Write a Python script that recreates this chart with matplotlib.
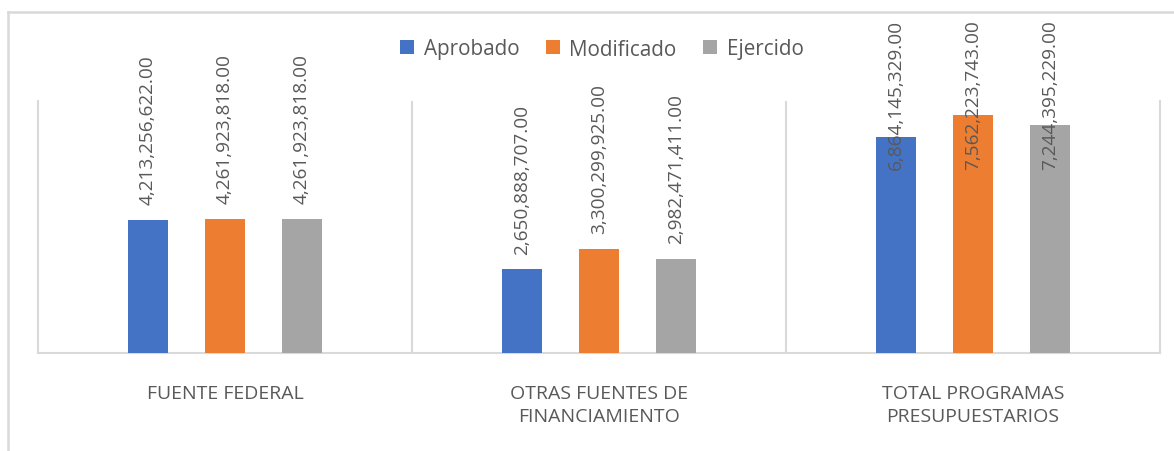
import matplotlib.pyplot as plt
import matplotlib.transforms as mtransforms
from matplotlib.lines import Line2D
import numpy as np

plt.rcParams['font.family'] = ['Open Sans', 'DejaVu Sans']

categorias = ['FUENTE FEDERAL', 'OTRAS FUENTES DE\nFINANCIAMIENTO', 'TOTAL PROGRAMAS\nPRESUPUESTARIOS']
series = ['Aprobado', 'Modificado', 'Ejercido']
aprobado = [4213256622.00, 2650888707.00, 6864145329.00]
modificado = [4261923818.00, 3300299925.00, 7562223743.00]
ejercido = [4261923818.00, 2982471411.00, 7244395229.00]
colores = ['#4472C4', '#ED7D31', '#A5A5A5']

gris_texto = '#595959'
gris_linea = '#D9D9D9'

fig = plt.figure(figsize=(11.74, 4.52), dpi=100)
# borde exterior del grafico (solo se ve arriba y a la izquierda)
yb = 1 - 12.5 / 452
xb = 8 / 1174
fig.add_artist(Line2D([xb, 1.0], [yb, yb], transform=fig.transFigure, color=gris_linea, linewidth=1.8))
fig.add_artist(Line2D([xb, xb], [0.0, yb], transform=fig.transFigure, color=gris_linea, linewidth=1.8))

ax = fig.add_axes([38 / 1174, 1 - 354 / 452, (1160 - 38) / 1174, 252 / 452])

x = np.arange(len(categorias))
ancho = 0.107
desp = 0.206
barras = []
for i, (nombre, vals) in enumerate(zip(series, [aprobado, modificado, ejercido])):
    b = ax.bar(x + (i - 1) * desp, vals, width=ancho, color=colores[i], label=nombre, zorder=3)
    barras.append(b)

ax.set_xlim(-0.5, 2.5)
ax.set_ylim(0, 8e9)
ax.set_yticks([])
ax.set_xticks(x)
ax.set_xticklabels(categorias, fontsize=14, color=gris_texto, linespacing=1.4)
ax.tick_params(axis='x', length=0, pad=22)
for s in ['left', 'right', 'bottom']:
    ax.spines[s].set_color(gris_linea)
    ax.spines[s].set_linewidth(1.5)
ax.spines['top'].set_visible(False)
for xv in [0.5, 1.5]:
    ax.axvline(xv, color=gris_linea, linewidth=1.5, zorder=1)

# etiquetas de datos
fig.canvas.draw()
renderer = fig.canvas.get_renderer()
limite = fig.bbox.height - 20
trans_top = mtransforms.blended_transform_factory(ax.transData, fig.transFigure)
for b in barras:
    for rect in b:
        v = rect.get_height()
        cx = rect.get_x() + rect.get_width() / 2
        t = ax.annotate(f'{v:,.2f}', (cx, v), xytext=(0, 11.5), textcoords='offset points',
                        rotation=90, ha='center', va='bottom', fontsize=13.7,
                        color=gris_texto, annotation_clip=False, zorder=5)
        ext = t.get_window_extent(renderer)
        if ext.y1 > limite:
            t.remove()
            ax.text(cx, 1 - 20 / 452, f'{v:,.2f}', transform=trans_top, rotation=90,
                    ha='center', va='top', fontsize=13.7, color=gris_texto, zorder=5)

fig.legend(loc='center', bbox_to_anchor=(602 / 1174, 1 - 50 / 452), ncol=3, frameon=False,
           fontsize=14.9, labelcolor=gris_texto, handlelength=0.67, handleheight=0.67,
           handletextpad=0.45, columnspacing=1.3)

fig.savefig('out.png', dpi=100)
